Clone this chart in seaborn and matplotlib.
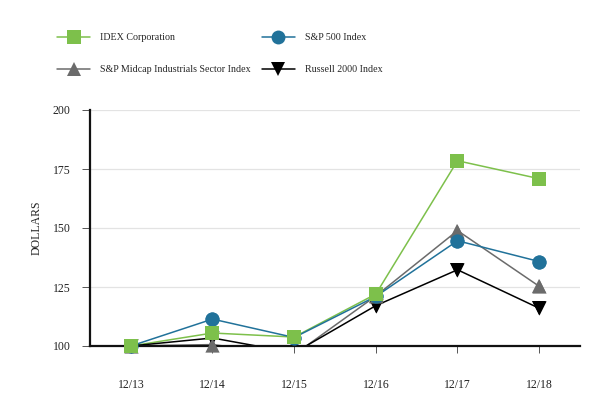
import numpy as np
import pandas as pd
import matplotlib
matplotlib.use("Agg")
import matplotlib.pyplot as plt
import seaborn as sns

# Data (values below 100 are clipped in the chart)
years = ["12/13", "12/14", "12/15", "12/16", "12/17", "12/18"]
idex = [100, 105.5, 103.8, 122.0, 178.5, 170.9]
sp500 = [100, 111.4, 103.6, 121.0, 144.6, 135.8]
midcap = [100, 100.6, 96.3, 121.2, 148.9, 125.3]
russell = [100, 103.4, 97.1, 117.1, 132.3, 116.0]

names = ["IDEX Corporation", "S&P Midcap Industrials Sector Index",
         "S&P 500 Index", "Russell 2000 Index"]
colors = {"IDEX Corporation": "#7DC04B",
          "S&P 500 Index": "#21729A",
          "S&P Midcap Industrials Sector Index": "#6B6B6B",
          "Russell 2000 Index": "#000000"}
markers = {"IDEX Corporation": "s",
           "S&P 500 Index": "o",
           "S&P Midcap Industrials Sector Index": "^",
           "Russell 2000 Index": "v"}

rows = []
for name, vals in zip(names, [idex, midcap, sp500, russell]):
    for i, (yr, v) in enumerate(zip(years, vals)):
        rows.append({"pos": i, "year": yr, "value": v, "series": name})
df = pd.DataFrame(rows)

sns.set_theme(style="white")
plt.rcParams["font.family"] = ["Liberation Serif", "DejaVu Serif"]

fig = plt.figure(figsize=(6.13, 4.0), dpi=100)
ax = fig.add_axes([90 / 613, 54 / 400, 490 / 613, 236 / 400])

sns.lineplot(data=df, x="pos", y="value", hue="series", style="series",
             hue_order=names, style_order=names, palette=colors,
             markers=markers, dashes=False, markersize=10,
             markeredgewidth=0, linewidth=1.1, sort=False, ax=ax)

# markers drawn unclipped so the ones sitting on the baseline stay whole
draw_order = ["Russell 2000 Index", "S&P Midcap Industrials Sector Index",
              "S&P 500 Index", "IDEX Corporation"]
for name in draw_order:
    sub = df[(df["series"] == name) & (df["value"] >= 99.5)]
    ax.scatter(sub["pos"], sub["value"], marker=markers[name], s=105,
               color=colors[name], linewidths=0, clip_on=False, zorder=5)

handles, labels = ax.get_legend_handles_labels()
ax.get_legend().remove()
fig.legend(handles, labels, ncol=2, loc="upper left",
           bbox_to_anchor=(57 / 613, 1 - 33 / 400), frameon=False,
           fontsize=7.2, handlelength=3.3, handletextpad=1.0,
           columnspacing=1.1, labelspacing=2.35, borderpad=0,
           borderaxespad=0)

ax.set_xlim(-0.5, 5.5)
ax.set_ylim(100, 200)
ax.set_xticks(range(len(years)))
ax.set_xticklabels(years)
ax.set_yticks([100, 125, 150, 175, 200])
ax.set_xlabel("")
ax.set_ylabel("DOLLARS", fontsize=8.5, labelpad=7, color="#222222")

ax.grid(axis="y", color="#E3E3E3", linewidth=0.9)
ax.set_axisbelow(True)
for side in ["top", "right"]:
    ax.spines[side].set_visible(False)
for side in ["left", "bottom"]:
    ax.spines[side].set_color("#111111")
    ax.spines[side].set_linewidth(1.6)

ax.tick_params(axis="x", bottom=True, length=5, width=0.7, color="#555555",
               pad=19, labelsize=8.5, labelcolor="#222222")
ax.tick_params(axis="y", left=True, length=6, width=0.7, color="#555555",
               pad=8, labelsize=8.5, labelcolor="#222222")

fig.savefig("out.png", dpi=100)
